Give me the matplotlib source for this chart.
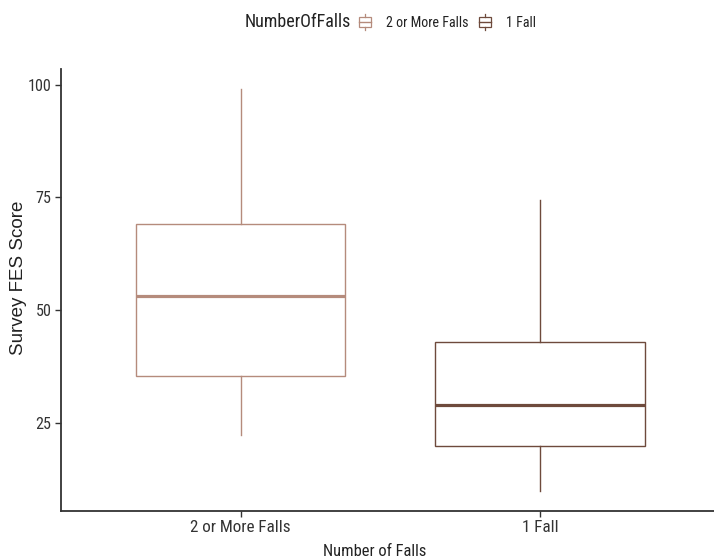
import matplotlib
matplotlib.use("Agg")
import matplotlib.pyplot as plt
import matplotlib.font_manager as fm
from matplotlib.legend_handler import HandlerBase
from matplotlib.patches import Rectangle
from matplotlib.lines import Line2D

# ---- data ----
categories = ["2 or More Falls", "1 Fall"]
whisker_low = [22.3, 10.0]
q1_values = [35.5, 20.0]
medians = [53.1, 29.0]
q3_values = [69.0, 43.0]
whisker_high = [99.0, 74.4]
y_ticks = [25, 50, 75, 100]

colors = ["#B58B7C", "#6E4A3C"]

# ---- font choice: a narrow sans if one exists ----
entries = fm.fontManager.ttflist
names = {e.name for e in entries}
COND = ("condensed", "semi-condensed", "extra-condensed", "ultra-condensed")


def is_cond(e):
    s = e.stretch
    if isinstance(s, (int, float)):
        return s < 500
    return str(s) in COND


narrow_family, narrow_stretch = None, "normal"
for n in ["Liberation Sans Narrow", "Arial Narrow", "Roboto Condensed",
          "Open Sans Condensed", "Noto Sans Condensed", "DejaVu Sans Condensed"]:
    if n in names:
        narrow_family = n
        break
if narrow_family is None:
    for fam in ["Liberation Sans", "Noto Sans", "DejaVu Sans", "Open Sans", "Roboto"]:
        cs = [e for e in entries if e.name == fam and is_cond(e)]
        if cs:
            narrow_family, narrow_stretch = fam, cs[0].stretch
            break
if narrow_family is None:
    narrow_family = "Liberation Sans" if "Liberation Sans" in names else "DejaVu Sans"
NARROW = dict(family=[narrow_family, "DejaVu Sans"], stretch=narrow_stretch)
REG = dict(family=["Liberation Sans", "DejaVu Sans"])

fig = plt.figure(figsize=(7.14, 5.6), dpi=100)
W, H = 714, 560
renderer = fig.canvas.get_renderer()


def fit_size(s, target_w, cap_px, props, base=12.0):
    t = fig.text(0, 0, s, fontsize=base, **props)
    bb = t.get_window_extent(renderer)
    t.remove()
    fw = base * target_w / bb.width
    fh = cap_px  # cap height in px ~ point size at 100 dpi
    return (fw * fh) ** 0.5


fs_xtick = fit_size("2 or More Falls", 89, 14, NARROW)
fs_ytick = fit_size("100", 21, 13, NARROW)
fs_title = fit_size("NumberOfFalls", 98, 14, NARROW)
fs_leg = fit_size("2 or More Falls", 76, 11, NARROW)
fs_xlab = fit_size("Number of Falls", 95, 13, NARROW)
fs_ylab = 13.5

ax_left, ax_right = 61, 714
ax_top, ax_bottom = 69, 510.7
ax = fig.add_axes([ax_left / W, (H - ax_bottom) / H,
                   (ax_right - ax_left) / W, (ax_bottom - ax_top) / H])

positions = list(range(1, len(categories) + 1))
for i, cat in enumerate(categories):
    stats = [dict(label=cat, whislo=whisker_low[i], q1=q1_values[i], med=medians[i],
                  q3=q3_values[i], whishi=whisker_high[i], fliers=[])]
    c = colors[i]
    ax.bxp(stats, positions=[positions[i]], widths=0.70, showcaps=False,
           showfliers=False, patch_artist=True,
           boxprops=dict(facecolor="white", edgecolor=c, linewidth=1.0),
           whiskerprops=dict(color=c, linewidth=1.0),
           medianprops=dict(color=c, linewidth=2.3, solid_capstyle="butt"))

ax.set_xlim(0.4, 0.4 + (ax_right - ax_left) / 299.3)
ax.set_ylim(5.55, 103.45)
ax.set_xticks(positions)
ax.set_xticklabels(categories, fontsize=fs_xtick, color="#333333", **NARROW)
ax.set_yticks(y_ticks)
ax.set_yticklabels([str(v) for v in y_ticks], fontsize=fs_ytick, color="#333333", **NARROW)
for s in ["top", "right"]:
    ax.spines[s].set_visible(False)
for s in ["left", "bottom"]:
    ax.spines[s].set_color("#333333")
    ax.spines[s].set_linewidth(1.3)
ax.tick_params(axis="both", length=4, width=1.0, color="#333333", pad=3)

axw, axh = ax_right - ax_left, ax_bottom - ax_top
ax.set_ylabel("Survey FES Score", fontsize=fs_ylab, color="#222222",
              va="center", ha="center", **REG)
ax.yaxis.set_label_coords((19 - ax_left) / axw, (ax_bottom - 277.5) / axh)
ax.set_xlabel("Number of Falls", fontsize=fs_xlab, color="#222222",
              va="center", ha="center", **NARROW)
ax.xaxis.set_label_coords((374.5 - ax_left) / axw, (ax_bottom - 551) / axh)


class BoxHandler(HandlerBase):
    def create_artists(self, legend, orig_handle, xdescent, ydescent, width, height,
                       fontsize, trans):
        c = orig_handle.get_edgecolor()
        x0, y0 = -xdescent, -ydescent
        rect = Rectangle((x0, y0 + 0.18 * height), width, 0.64 * height,
                         facecolor="white", edgecolor=c, linewidth=0.9, transform=trans)
        med = Line2D([x0, x0 + width], [y0 + 0.5 * height] * 2, color=c,
                     linewidth=1.0, transform=trans)
        wt = Line2D([x0 + width / 2] * 2, [y0 + 0.82 * height, y0 + height], color=c,
                    linewidth=0.9, transform=trans)
        wb = Line2D([x0 + width / 2] * 2, [y0, y0 + 0.18 * height], color=c,
                    linewidth=0.9, transform=trans)
        return [rect, med, wt, wb]


handles = [Rectangle((0, 0), 1, 1, facecolor="white", edgecolor=c) for c in colors]
legend_y = 1 - 22 / H
title = fig.text(0, legend_y, "NumberOfFalls", fontsize=fs_title,
                 color="#222222", ha="left", va="center", **NARROW)
fs_px = fs_leg * 100 / 72.0
leg = fig.legend(handles, categories, loc="center left",
                 bbox_to_anchor=(0, legend_y), ncol=2, frameon=False,
                 handler_map={Rectangle: BoxHandler()},
                 handlelength=12 / fs_px, handleheight=19 / fs_px,
                 handletextpad=15 / fs_px, columnspacing=10 / fs_px,
                 borderaxespad=0, borderpad=0,
                 prop=fm.FontProperties(size=fs_leg, **NARROW))
for t in leg.get_texts():
    t.set_color("#222222")

# centre the title + legend group around the reference's centre (x ~ 390 px)
tw = title.get_window_extent(renderer).width
lw = leg.get_window_extent(renderer).width
gap = 9
total = tw + gap + lw
x0 = 390 - total / 2
title.set_x(x0 / W)
leg.set_bbox_to_anchor((x0 + tw + gap) / W, legend_y) if False else None
leg.set_bbox_to_anchor(((x0 + tw + gap) / W, legend_y), transform=fig.transFigure)

fig.savefig("out.png", dpi=100)
